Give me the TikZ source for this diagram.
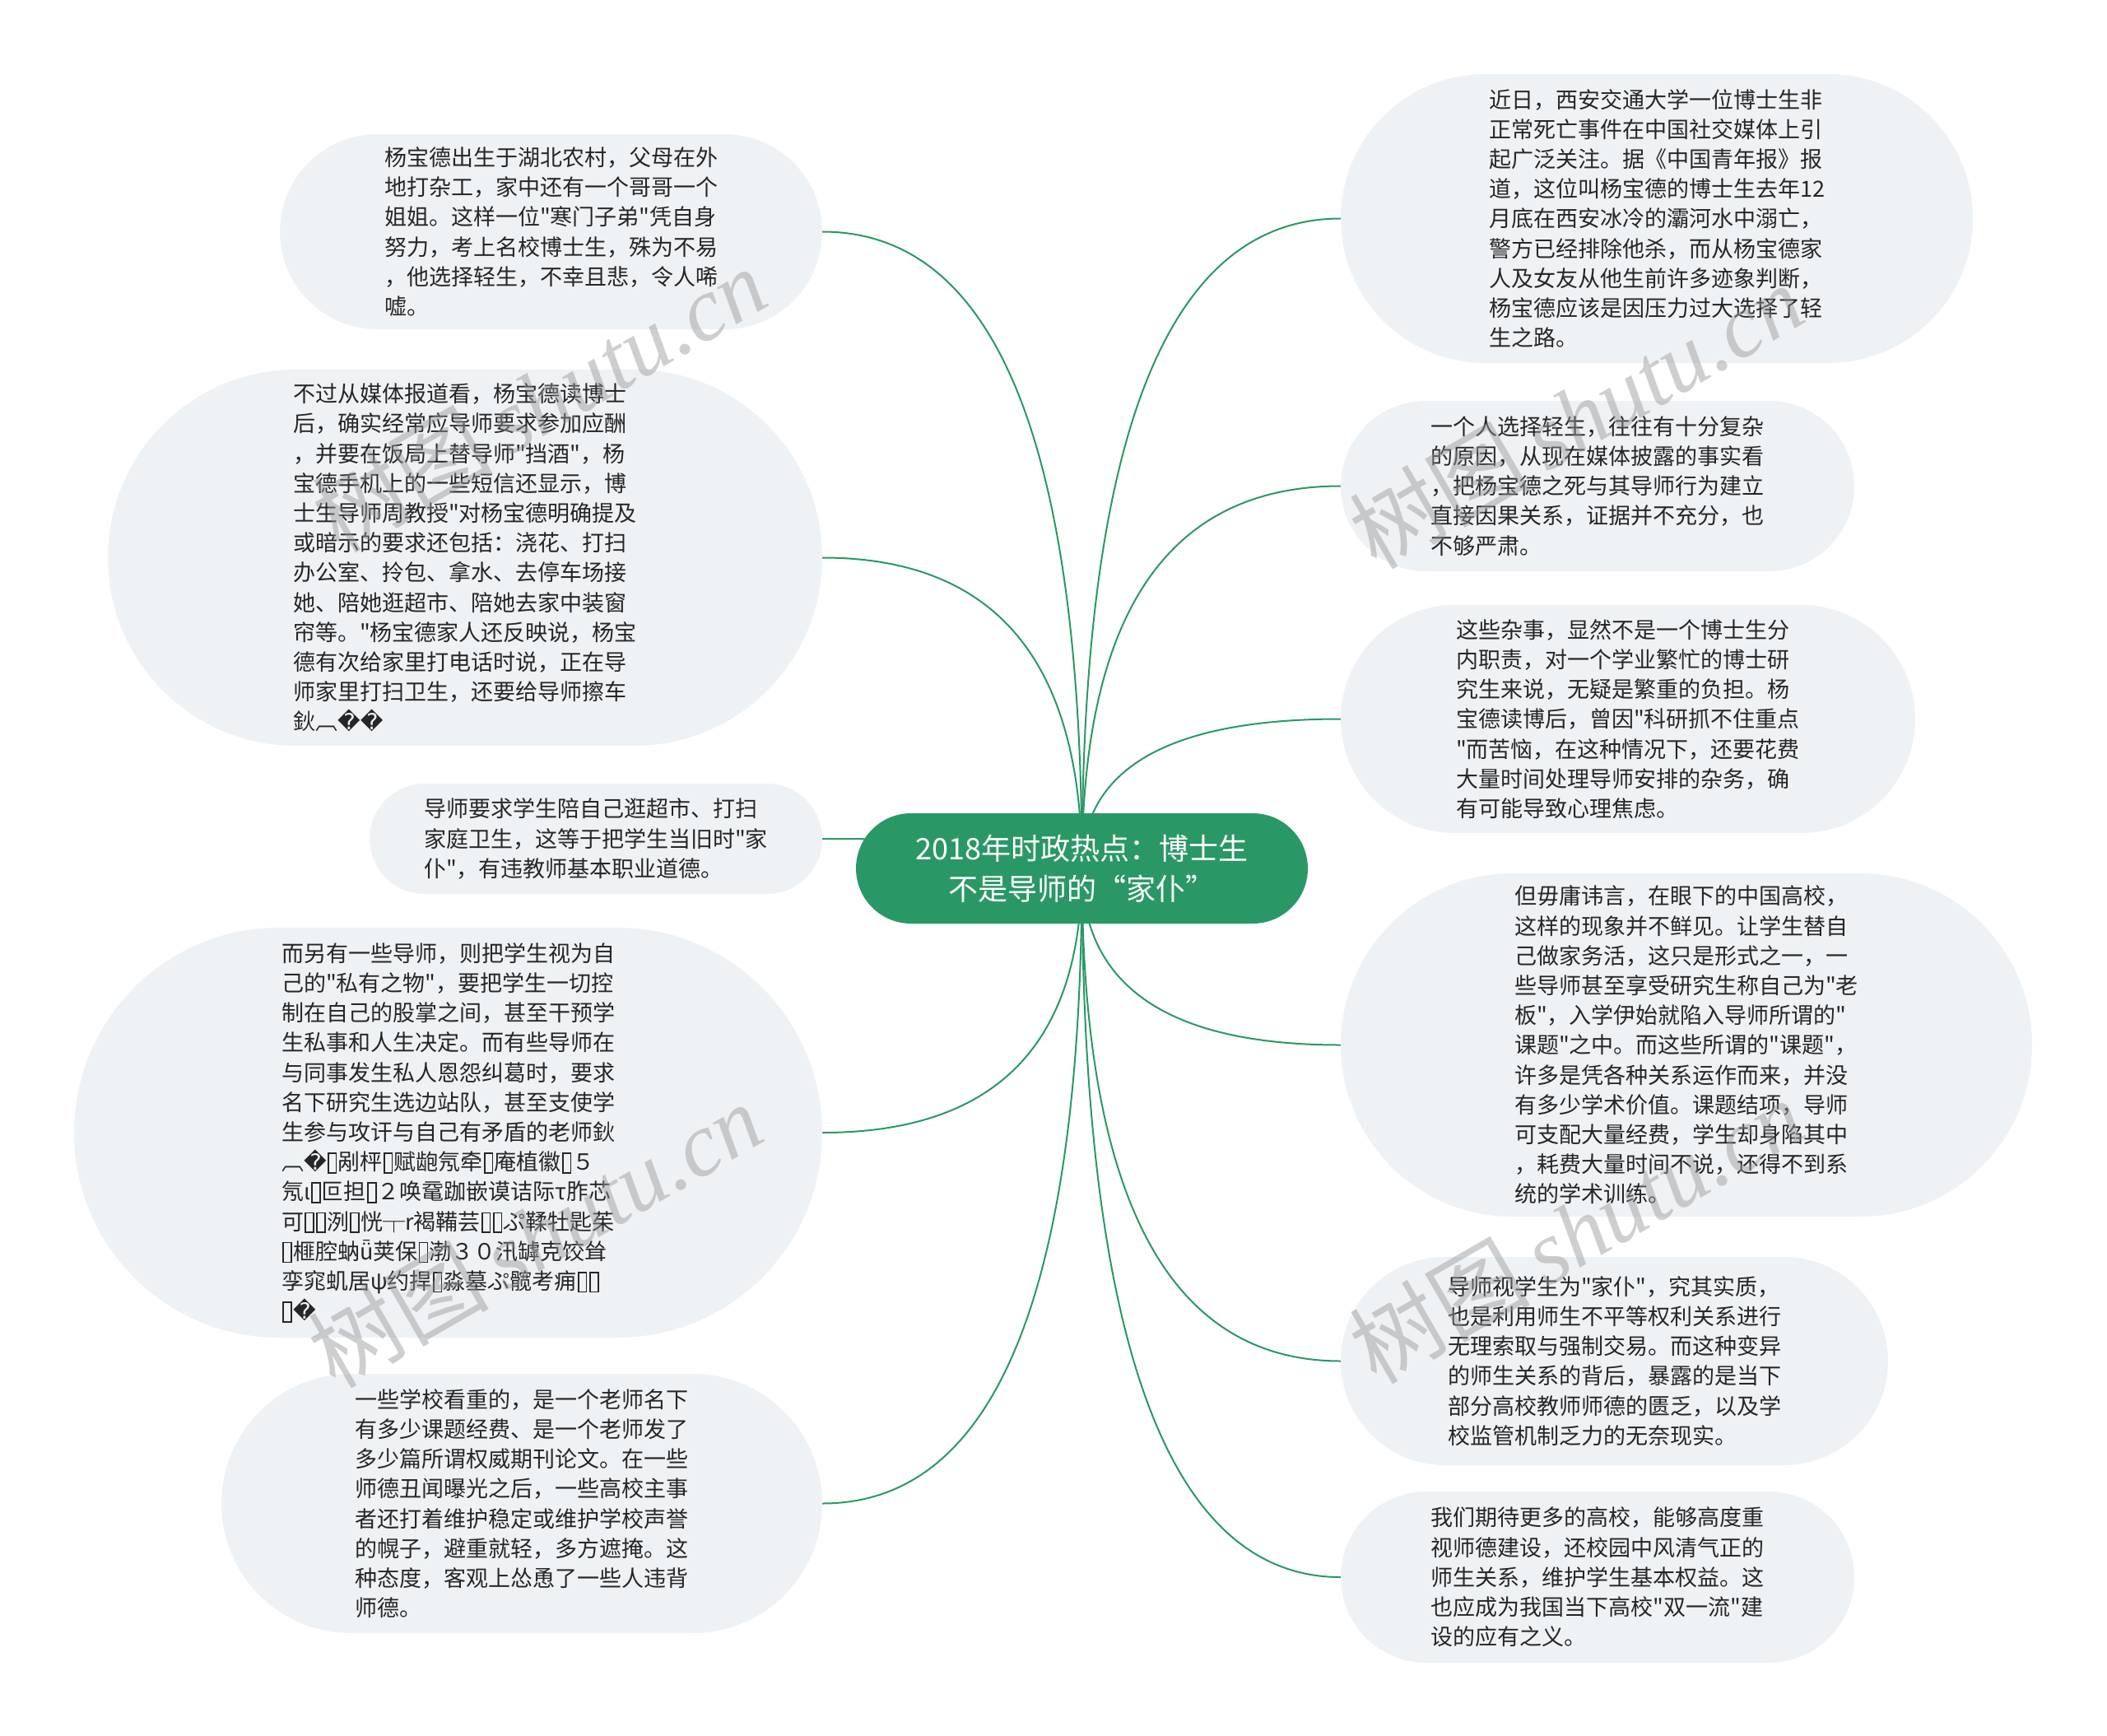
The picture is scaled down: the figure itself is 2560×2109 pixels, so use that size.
\documentclass[tikz,border=0pt]{standalone}
\usepackage{fontspec}
\usetikzlibrary{calc}
\newfontfamily\cjk{Noto Sans CJK SC}
\newfontfamily\dejavu{DejaVu Sans}
\newfontfamily\wmserif{Liberation Serif}
\definecolor{rootgreen}{RGB}{42,152,102}
\definecolor{linegreen}{RGB}{42,152,102}
\definecolor{boxgray}{RGB}{239,242,245}
\definecolor{txt}{RGB}{38,38,38}
\definecolor{wmgray}{RGB}{150,150,150}
\newcommand\leaffont{\cjk\fontsize{27}{36.2}\selectfont}
\newcommand\rootfont{\cjk\fontsize{36}{49}\selectfont}
\newcommand\wmfont{\fontsize{110}{110}\selectfont}
\newcommand\tf{\kern0.05em\raisebox{-0.08em}{\setlength{\fboxsep}{0pt}\setlength{\fboxrule}{0.06em}\fbox{\rule{0pt}{0.82em}\rule{0.3em}{0pt}}}\kern0.05em}
\newcommand\rc{{\dejavu\symbol{"FFFD}}}
\pgfdeclarelayer{bg}
\pgfsetlayers{bg,main}
\begin{document}
\begin{tikzpicture}[x=1pt,y=-1pt,
  leaf/.style={fill=boxgray, text=txt, align=left, inner sep=0pt, font=\leaffont},
  box/.style 2 args={minimum width=#1pt, minimum height=#2pt, rounded corners=#2pt*0.5},
  rootbox/.style={fill=rootgreen, text=white, align=center, inner sep=0pt, font=\rootfont,
    minimum width=549pt, minimum height=134pt, rounded corners=67pt},
  link/.style={draw=linegreen, line width=2pt},
  wm/.style={text=wmgray, opacity=0.45, rotate=30, inner sep=0pt, font=\wmfont}]
\useasboundingbox (0,0) rectangle (2560,2109);

\node[rootbox] (root) at (1314.5,1055) {2018年时政热点：博士生\\不是导师的“家仆”};

% left
\node[leaf, box={659}{237}] (L1) at (669.5,281.5) {杨宝德出生于湖北农村，父母在外\\地打杂工，家中还有一个哥哥一个\\姐姐。这样一位"寒门子弟"凭自身\\努力，考上名校博士生，殊为不易\\，他选择轻生，不幸且悲，令人唏\\嘘。};
\node[leaf, box={868}{457}] (L2) at (565,677.5) {不过从媒体报道看，杨宝德读博士\\后，确实经常应导师要求参加应酬\\，并要在饭局上替导师"挡酒"，杨\\宝德手机上的一些短信还显示，博\\士生导师周教授"对杨宝德明确提及\\或暗示的要求还包括：浇花、打扫\\办公室、拎包、拿水、去停车场接\\她、陪她逛超市、陪她去家中装窗\\帘等。"杨宝德家人还反映说，杨宝\\德有次给家里打电话时说，正在导\\师家里打扫卫生，还要给导师擦车\\鈥︹\rc\rc};
\node[leaf, box={550}{134}] (L3) at (724,1019) {导师要求学生陪自己逛超市、打扫\\家庭卫生，这等于把学生当旧时"家\\仆"，有违教师基本职业道德。};
\node[leaf, box={909}{498}] (L4) at (544.5,1376) {而另有一些导师，则把学生视为自\\己的"私有之物"，要把学生一切控\\制在自己的股掌之间，甚至干预学\\生私事和人生决定。而有些导师在\\与同事发生私人恩怨纠葛时，要求\\名下研究生选边站队，甚至支使学\\生参与攻讦与自己有矛盾的老师鈥\\︹\rc\tf{}剐枰\tf{}赋龅氖牵\tf{}庵植徽\tf{}５\\氖ι\tf{}叵担\tf{}２唤鼋跏嵌谟诘际τ胙芯\\可\tf{}\tf{}洌\tf{}恍┬r褐鞴芸\tf{}\tf{}ぷ鞣牡匙茱\\\tf{}榧腔蚋ǖ荚保\tf{}渤３０汛罅克饺耸\\孪窕虮居ψ约捍\tf{}淼墓ぷ髋考痈\tf{}\tf{}\\\tf{}\rc};
\node[leaf, box={730}{315}] (L5) at (634,1826.5) {一些学校看重的，是一个老师名下\\有多少课题经费、是一个老师发了\\多少篇所谓权威期刊论文。在一些\\师德丑闻曝光之后，一些高校主事\\者还打着维护稳定或维护学校声誉\\的幌子，避重就轻，多方遮掩。这\\种态度，客观上怂恿了一些人违背\\师德。};

% right
\node[leaf, box={768}{351}] (R1) at (2013,265.5) {近日，西安交通大学一位博士生非\\正常死亡事件在中国社交媒体上引\\起广泛关注。据《中国青年报》报\\道，这位叫杨宝德的博士生去年12\\月底在西安冰冷的灞河水中溺亡，\\警方已经排除他杀，而从杨宝德家\\人及女友从他生前许多迹象判断，\\杨宝德应该是因压力过大选择了轻\\生之路。};
\node[leaf, box={624}{207}] (R2) at (1941,590.5) {一个人选择轻生，往往有十分复杂\\的原因，从现在媒体披露的事实看\\，把杨宝德之死与其导师行为建立\\直接因果关系，证据并不充分，也\\不够严肃。};
\node[leaf, box={698}{277}] (R3) at (1978,873.5) {这些杂事，显然不是一个博士生分\\内职责，对一个学业繁忙的博士研\\究生来说，无疑是繁重的负担。杨\\宝德读博后，曾因"科研抓不住重点\\"而苦恼，在这种情况下，还要花费\\大量时间处理导师安排的杂务，确\\有可能导致心理焦虑。};
\node[leaf, box={840}{417}] (R4) at (2049,1269.5) {但毋庸讳言，在眼下的中国高校，\\这样的现象并不鲜见。让学生替自\\己做家务活，这只是形式之一，一\\些导师甚至享受研究生称自己为"老\\板"，入学伊始就陷入导师所谓的"\\课题"之中。而这些所谓的"课题"，\\许多是凭各种关系运作而来，并没\\有多少学术价值。课题结项，导师\\可支配大量经费，学生却身陷其中\\，耗费大量时间不说，还得不到系\\统的学术训练。};
\node[leaf, box={665}{253}] (R5) at (1961.5,1653.5) {导师视学生为"家仆"，究其实质，\\也是利用师生不平等权利关系进行\\无理索取与强制交易。而这种变异\\的师生关系的背后，暴露的是当下\\部分高校教师师德的匮乏，以及学\\校监管机制乏力的无奈现实。};
\node[leaf, box={624}{208}] (R6) at (1941,1916) {我们期待更多的高校，能够高度重\\视师德建设，还校园中风清气正的\\师生关系，维护学生基本权益。这\\也应成为我国当下高校"双一流"建\\设的应有之义。};

\begin{pgfonlayer}{bg}
\fill[white] (0,0) rectangle (2560,2109);
\foreach \n in {L1,L2,L3,L4,L5} {
  \coordinate (k) at (root.center |- \n.east);
  \draw[link] (root.center) .. controls ($(root.center)!0.667!(k)$) and ($(\n.east)!0.667!(k)$) .. (\n.east);
}
\foreach \n in {R1,R2,R3,R4,R5,R6} {
  \coordinate (k) at (root.center |- \n.west);
  \draw[link] (root.center) .. controls ($(root.center)!0.667!(k)$) and ($(\n.west)!0.667!(k)$) .. (\n.west);
}
\end{pgfonlayer}

% watermarks
\node[wm] (w1) at (655,485) {{\cjk 树图}\,{\wmserif\itshape shutu.cn}};
\node[wm] (w2) at (650,1500) {{\cjk 树图}\,{\wmserif\itshape shutu.cn}};
\node[wm] (w3) at (1915,505) {{\cjk 树图}\,{\wmserif\itshape shutu.cn}};
\node[wm] (w4) at (1915,1495) {{\cjk 树图}\,{\wmserif\itshape shutu.cn}};
\end{tikzpicture}
\end{document}
